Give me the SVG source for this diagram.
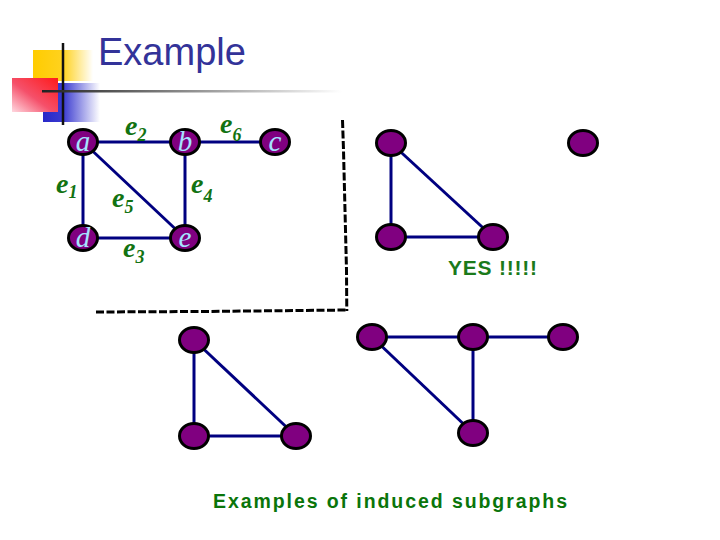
<svg xmlns="http://www.w3.org/2000/svg" width="720" height="540" viewBox="0 0 720 540">
<defs>
<linearGradient id="gY" x1="0" y1="0" x2="1" y2="0"><stop offset="0" stop-color="#FFCC00"/><stop offset="0.5" stop-color="#FFD21F"/><stop offset="1" stop-color="#FFFFFF"/></linearGradient>
<linearGradient id="gR" x1="1" y1="0" x2="0" y2="1"><stop offset="0" stop-color="#FF1A1A"/><stop offset="0.55" stop-color="#F5506A"/><stop offset="1" stop-color="#FFD8E0"/></linearGradient>
<linearGradient id="gB" x1="0" y1="0" x2="1" y2="0"><stop offset="0" stop-color="#2828C8"/><stop offset="0.35" stop-color="#3A3AD0"/><stop offset="1" stop-color="#FFFFFF"/></linearGradient>
<linearGradient id="gL" x1="0" y1="0" x2="1" y2="0"><stop offset="0" stop-color="#222222"/><stop offset="1" stop-color="#FFFFFF"/></linearGradient>
<style>
.edge{stroke:#000080;stroke-width:3;fill:none}
.node{fill:#800080;stroke:#000000;stroke-width:3}
.nl{font-family:"Liberation Serif",serif;font-style:italic;font-size:29px;fill:#A6E3FF;text-anchor:middle}
.el{font-family:"Liberation Serif",serif;font-style:italic;font-weight:bold;font-size:28px;fill:#127312}
.sub{font-size:18px}
.dash{stroke:#000000;stroke-width:3;fill:none;stroke-dasharray:8 2.5}
</style>
</defs>
<g id="logo">
<rect x="33" y="50" width="60" height="31" fill="url(#gY)"/>
<rect x="43" y="83" width="57" height="39" fill="url(#gB)"/>
<rect x="12" y="78" width="46" height="34" fill="url(#gR)"/>
<line x1="63" y1="43" x2="63" y2="125" stroke="#111111" stroke-width="2.5"/>
<rect x="42" y="90" width="300" height="2.5" fill="url(#gL)"/>
</g>
<text id="title" x="98" y="65" font-family="'Liberation Sans',Arial,sans-serif" font-size="38" fill="#333399">Example</text>
<g id="connectors">
<line class="edge" x1="83" y1="142" x2="185" y2="142"/>
<line class="edge" x1="185" y1="142" x2="275" y2="142"/>
<line class="edge" x1="83" y1="142" x2="83" y2="238"/>
<line class="edge" x1="83" y1="142" x2="185" y2="238"/>
<line class="edge" x1="185" y1="142" x2="185" y2="238"/>
<line class="edge" x1="83" y1="238" x2="185" y2="238"/>
<line class="edge" x1="391" y1="143" x2="391" y2="237"/>
<line class="edge" x1="391" y1="143" x2="493" y2="237"/>
<line class="edge" x1="391" y1="237" x2="493" y2="237"/>
<line class="edge" x1="194" y1="340" x2="194" y2="436"/>
<line class="edge" x1="194" y1="340" x2="296" y2="436"/>
<line class="edge" x1="194" y1="436" x2="296" y2="436"/>
<line class="edge" x1="372" y1="337" x2="473" y2="337"/>
<line class="edge" x1="473" y1="337" x2="563" y2="337"/>
<line class="edge" x1="372" y1="337" x2="473" y2="433"/>
<line class="edge" x1="473" y1="337" x2="473" y2="433"/>
</g>
<g id="edge-labels">
<text class="el" x="125" y="135">e<tspan class="sub" dy="6">2</tspan></text>
<text class="el" x="220" y="133">e<tspan class="sub" dy="8">6</tspan></text>
<text class="el" x="56" y="193">e<tspan class="sub" dy="5">1</tspan></text>
<text class="el" x="112" y="207">e<tspan class="sub" dy="6">5</tspan></text>
<text class="el" x="191" y="193">e<tspan class="sub" dy="9">4</tspan></text>
<text class="el" x="123" y="257">e<tspan class="sub" dy="6">3</tspan></text>
</g>
<g id="node-a"><ellipse class="node" cx="83" cy="142" rx="14.5" ry="12.5"/><text class="nl" x="83" y="151">a</text></g>
<g id="node-b"><ellipse class="node" cx="185" cy="142" rx="14.5" ry="12.5"/><text class="nl" x="185" y="151">b</text></g>
<g id="node-c"><ellipse class="node" cx="275" cy="142" rx="14.5" ry="12.5"/><text class="nl" x="275" y="151">c</text></g>
<g id="node-d"><ellipse class="node" cx="83" cy="238" rx="14.5" ry="12.5"/><text class="nl" x="83" y="247">d</text></g>
<g id="node-e"><ellipse class="node" cx="185" cy="238" rx="14.5" ry="12.5"/><text class="nl" x="185" y="247">e</text></g>
<g id="g1-n1"><ellipse class="node" cx="391" cy="143" rx="14.5" ry="12.5"/></g>
<g id="g1-n2"><ellipse class="node" cx="583" cy="143" rx="14.5" ry="12.5"/></g>
<g id="g1-n3"><ellipse class="node" cx="391" cy="237" rx="14.5" ry="12.5"/></g>
<g id="g1-n4"><ellipse class="node" cx="493" cy="237" rx="14.5" ry="12.5"/></g>
<g id="g2-n1"><ellipse class="node" cx="194" cy="340" rx="14.5" ry="12.5"/></g>
<g id="g2-n2"><ellipse class="node" cx="194" cy="436" rx="14.5" ry="12.5"/></g>
<g id="g2-n3"><ellipse class="node" cx="296" cy="436" rx="14.5" ry="12.5"/></g>
<g id="g3-n1"><ellipse class="node" cx="372" cy="337" rx="14.5" ry="12.5"/></g>
<g id="g3-n2"><ellipse class="node" cx="473" cy="337" rx="14.5" ry="12.5"/></g>
<g id="g3-n3"><ellipse class="node" cx="563" cy="337" rx="14.5" ry="12.5"/></g>
<g id="g3-n4"><ellipse class="node" cx="473" cy="433" rx="14.5" ry="12.5"/></g>
<g id="divider">
<path class="dash" d="M342.5,120 L343.5,150 L344.5,190 L345.5,230 L346.5,270 L346.8,311"/>
<path class="dash" d="M96,312 L200,311.5 L300,310.5 L347,310"/>
</g>
<text id="yes" x="448" y="275" font-family="'Liberation Sans',Arial,sans-serif" font-weight="bold" font-size="21" fill="#1B7A1B" textLength="89" lengthAdjust="spacing">YES !!!!!</text>
<text id="caption" x="213" y="508" font-family="'Liberation Sans',Arial,sans-serif" font-weight="bold" font-size="19.5" fill="#0A750A" textLength="354" lengthAdjust="spacing">Examples of induced subgraphs</text>
</svg>
